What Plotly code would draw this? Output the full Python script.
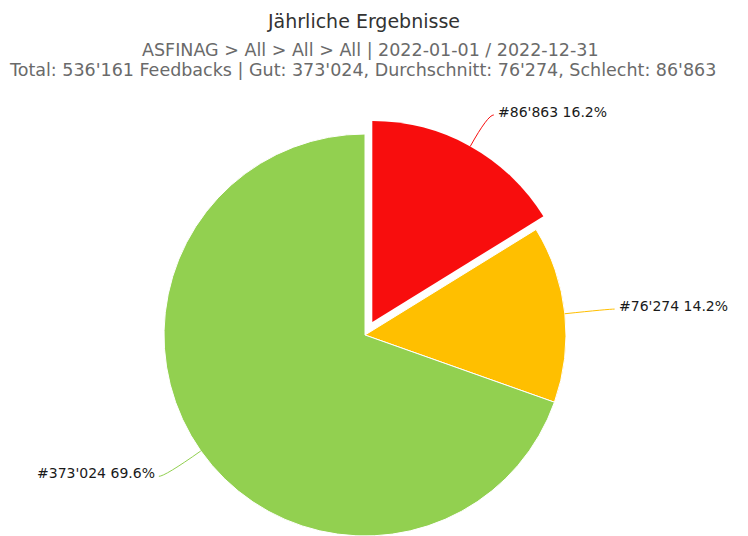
import math
import plotly.graph_objects as go

# ---- data ----
categories = ["Schlecht", "Durchschnitt", "Gut"]
values = [86863, 76274, 373024]
colors = ["#F80D0D", "#FFBF00", "#92D050"]
title_text = "Jährliche Ergebnisse"
subtitle_1 = "ASFINAG > All > All > All | 2022-01-01 / 2022-12-31"

# ---- layout constants (page pixels) ----
OFF = 8                      # browser body margin
W, H = 748 - OFF, 536 - OFF  # figure size
CX, CY, R = 365, 335, 201    # pie centre / radius in page pixels
PULL_PX = 15
LABEL_EXT = [36, 44, 44]
FONT = "DejaVu Sans"

def fmt(n):
    return f"{n:,}".replace(",", "'")

def px(x):
    return (x - OFF) / W

def py(y):
    return 1 - (y - OFF) / H

total = sum(values)
subtitle_2 = (f"Total: {fmt(total)} Feedbacks | Gut: {fmt(values[2])}, "
              f"Durchschnitt: {fmt(values[1])}, Schlecht: {fmt(values[0])}")

def px_domain(cx, cy, r):
    return dict(x=[max(0, px(cx - r)), min(1, px(cx + r))],
                y=[max(0, py(cy + r)), min(1, py(cy - r))])

# slice mid-angles (clockwise from 12 o'clock)
mids = []
acc = 0
for v in values:
    mids.append((acc + v / 2) / total * 2 * math.pi)
    acc += v

# offset of pulled (first) slice
dx = PULL_PX * math.sin(mids[0])
dy = -PULL_PX * math.cos(mids[0])

fig = go.Figure()
fig.add_trace(go.Pie(
    labels=categories, values=values, sort=False, direction="clockwise",
    rotation=0, textinfo="none", hoverinfo="label+value+percent",
    marker=dict(colors=["rgba(0,0,0,0)", colors[1], colors[2]],
                line=dict(color="white", width=1)),
    domain=px_domain(CX, CY, R), showlegend=False,
))
fig.add_trace(go.Pie(
    labels=categories, values=values, sort=False, direction="clockwise",
    rotation=0, textinfo="none", hoverinfo="skip",
    marker=dict(colors=[colors[0], "rgba(0,0,0,0)", "rgba(0,0,0,0)"],
                line=dict(color="rgba(0,0,0,0)", width=0)),
    domain=px_domain(CX + dx, CY + dy, R), showlegend=False,
))

shapes = []
annotations = []
for i, (v, m) in enumerate(zip(values, mids)):
    ox, oy = (dx, dy) if i == 0 else (0, 0)
    sx = CX + ox + R * math.sin(m)
    sy = CY + oy - R * math.cos(m)
    ex = CX + ox + (R + LABEL_EXT[i]) * math.sin(m)
    ey = CY + oy - (R + LABEL_EXT[i]) * math.cos(m)
    right = math.sin(m) >= 0
    hx = ex + (6 if right else -6)
    path = f"M {px(sx)},{py(sy)} Q {px(ex)},{py(ey)} {px(hx)},{py(ey)}"
    shapes.append(dict(type="path", xref="paper", yref="paper", path=path,
                       line=dict(color=colors[i], width=1)))
    pct = v / total * 100
    annotations.append(dict(
        x=px(hx + (2 if right else -2)), y=py(ey - 3),
        xref="paper", yref="paper", showarrow=False,
        xanchor="left" if right else "right", yanchor="middle",
        text=f"#{fmt(v)} {pct:.1f}%",
        font=dict(family=FONT, size=14, color="#1a1a1a"),
    ))

annotations.append(dict(x=px(363), y=py(21), xref="paper", yref="paper",
                        showarrow=False, xanchor="center", yanchor="middle",
                        text=title_text, borderpad=0,
                        font=dict(family=FONT, size=19, color="#333333")))
annotations.append(dict(x=px(370), y=py(50), xref="paper", yref="paper",
                        showarrow=False, xanchor="center", yanchor="middle",
                        text=subtitle_1,
                        font=dict(family=FONT, size=17.5, color="#6a6a6a")))
annotations.append(dict(x=px(362), y=py(70), xref="paper", yref="paper",
                        showarrow=False, xanchor="center", yanchor="middle",
                        text=subtitle_2,
                        font=dict(family=FONT, size=17.5, color="#6a6a6a")))

fig.update_layout(
    width=W, height=H, margin=dict(l=0, r=0, t=0, b=0),
    paper_bgcolor="white", plot_bgcolor="white",
    shapes=shapes, annotations=annotations,
)
fig.write_html("out.html")
